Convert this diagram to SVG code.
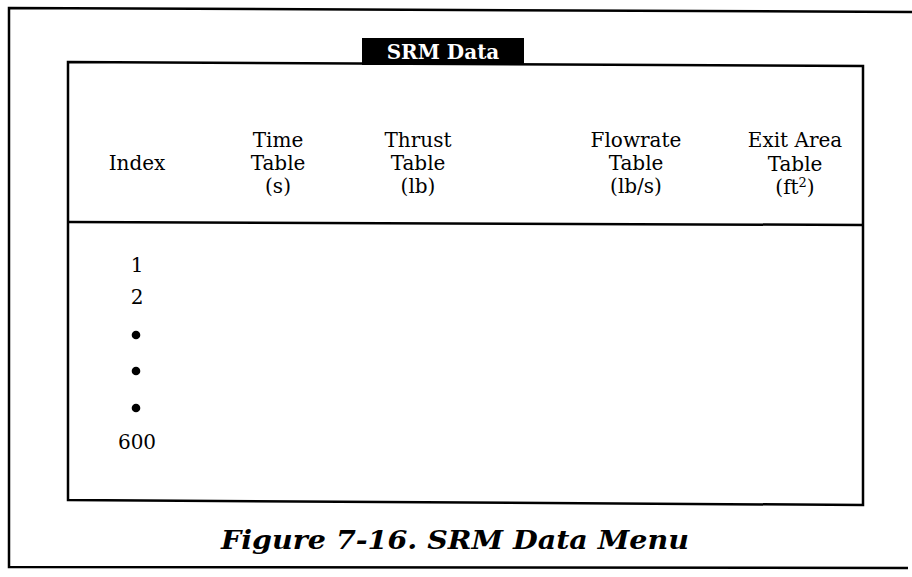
<svg xmlns="http://www.w3.org/2000/svg" width="912" height="577" viewBox="0 0 912 577">
<style>
.ln{fill:none;stroke:#000;stroke-width:2.5}
.t{font-family:"DejaVu Serif","Liberation Serif",serif;font-size:20px;fill:#000;text-anchor:middle}
.b{font-family:"DejaVu Serif","Liberation Serif",serif;font-weight:bold;text-anchor:middle}
</style>
<rect width="912" height="577" fill="#fff"/>
<g id="frame">
<path class="ln" d="M912,12 L9,8 L9,567 L908,568"/>
</g>
<g id="panel">
<path class="ln" d="M68,62 L863,66 L863,505 L68,500 Z"/>
<line class="ln" x1="68" y1="222" x2="863" y2="225"/>
</g>
<g id="title">
<rect x="362" y="38" width="162" height="27" fill="#000"/>
<text class="b" x="443" y="59" font-size="20" fill="#fff">SRM Data</text>
</g>
<g id="headers">
<text class="t" x="137" y="170">Index</text>
<text class="t" x="278" y="147">Time</text>
<text class="t" x="278" y="170">Table</text>
<text class="t" x="278" y="193">(s)</text>
<text class="t" x="418" y="147">Thrust</text>
<text class="t" x="418" y="170">Table</text>
<text class="t" x="418" y="193">(lb)</text>
<text class="t" x="636" y="147">Flowrate</text>
<text class="t" x="636" y="170">Table</text>
<text class="t" x="636" y="193">(lb/s)</text>
<text class="t" x="795" y="147">Exit Area</text>
<text class="t" x="795" y="171">Table</text>
<text class="t" x="795" y="194">(ft<tspan font-size="13" dy="-7">2</tspan><tspan dy="7">)</tspan></text>
</g>
<g id="rows">
<text class="t" x="137" y="272">1</text>
<text class="t" x="137" y="304">2</text>
<circle cx="136" cy="335" r="4.3"/>
<circle cx="136" cy="371" r="4.3"/>
<circle cx="136" cy="408" r="4.3"/>
<text class="t" x="137" y="449">600</text>
</g>
<g id="caption">
<text class="b" x="455" y="549" font-size="26" font-style="italic" textLength="468" lengthAdjust="spacingAndGlyphs">Figure 7-16.  SRM Data Menu</text>
</g>
</svg>
